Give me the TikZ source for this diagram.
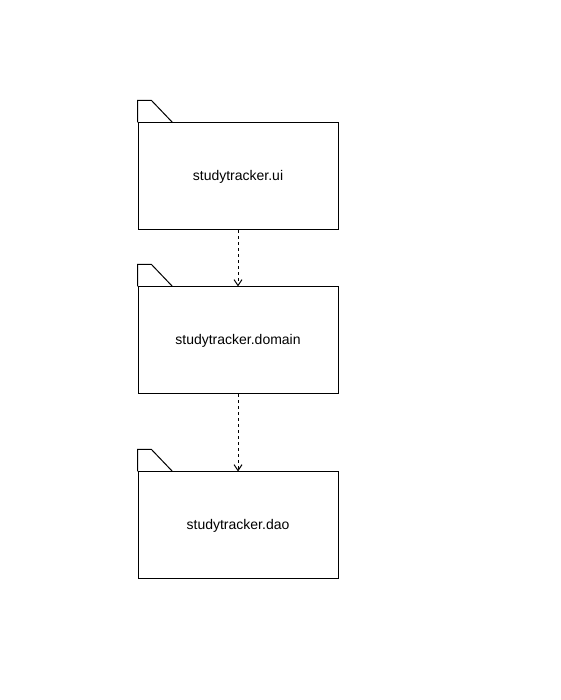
\documentclass[tikz,border=0pt]{standalone}
\usepackage{fontspec}
\setmainfont{Liberation Sans}
\usetikzlibrary{arrows.meta}

\tikzset{
    pkg/.style={draw, black, line width=1pt, minimum width=200pt, minimum height=107pt, inner sep=0pt, font=\fontsize{14}{17}\selectfont},
    tab/.style={line width=1pt},
    dep/.style={line width=1pt, dash pattern=on 3pt off 3pt, -{Straight Barb[length=6pt, width=8pt, line width=1pt]}}
}

\begin{document}
\begin{tikzpicture}[x=1pt, y=1pt]
        \useasboundingbox (0, 0) rectangle (560, 700);

        \draw (238, 523.5) node[pkg](ui){studytracker.ui}
        (238, 359.5) node[pkg](domain){studytracker.domain}
        (238, 174.5) node[pkg](dao){studytracker.dao};

        \draw[tab] (ui.north west) -- ++(0, 22) -- ++(14, 0) -- ++(21, -22);
        \draw[tab] (domain.north west) -- ++(0, 22) -- ++(14, 0) -- ++(21, -22);
        \draw[tab] (dao.north west) -- ++(0, 22) -- ++(14, 0) -- ++(21, -22);

        \draw[dep] (ui) -- (domain);
        \draw[dep] (domain) -- (dao);
    \end{tikzpicture}
\end{document}
